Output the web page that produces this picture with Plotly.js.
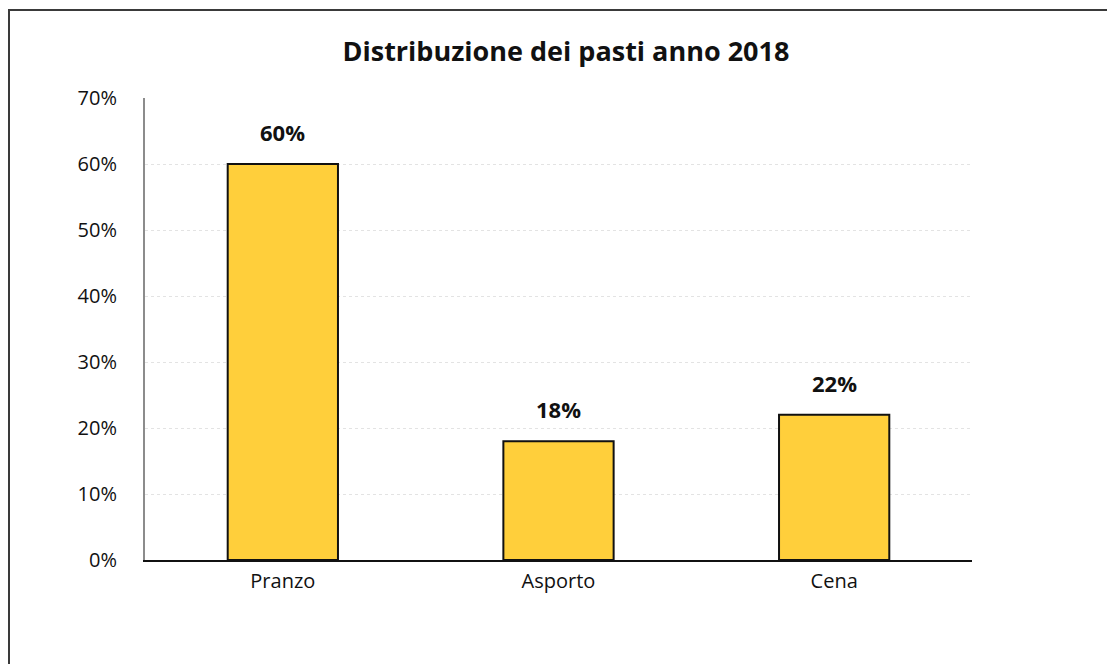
<!DOCTYPE html>
<html>
<head>
<meta charset="utf-8">
<script src="https://cdn.plot.ly/plotly-3.0.1.min.js"></script>
<style>
  html, body { margin: 0; padding: 0; background: #fff; overflow: hidden; }
  #frame { position: absolute; left: 8px; top: 9px; width: 1200px; height: 800px;
           border-left: 2px solid #3a3a3a; border-top: 2px solid #3a3a3a; pointer-events: none; z-index: 5; }
  #chart { position: absolute; left: 0; top: 0; width: 1107px; height: 664px; }
</style>
</head>
<body>
<div id="chart"></div>
<div id="frame"></div>
<script>
const categories = ["Pranzo", "Asporto", "Cena"];
const shares = [0.60, 0.18, 0.22];
const chartTitle = "Distribuzione dei pasti anno 2018";

const FONT = "'Open Sans', 'Noto Sans', sans-serif";

const trace = {
  type: "bar",
  x: categories,
  y: shares,
  marker: { color: "#FFCF3B", line: { color: "#111111", width: 2 } },
  hoverinfo: "skip"
};

const annotations = categories.map((c, i) => ({
  x: c, y: shares[i], xref: "x", yref: "y",
  text: "<b>" + Math.round(shares[i] * 100) + "%</b>",
  showarrow: false, yanchor: "bottom", yshift: 15,
  font: { family: FONT, size: 22, color: "#111" }
}));

const layout = {
  width: 1107, height: 664,
  margin: { l: 145, r: 135, t: 98, b: 104 },
  paper_bgcolor: "#fff", plot_bgcolor: "#fff",
  showlegend: false,
  bargap: 0.6,
  title: {
    text: "<b>" + chartTitle + "</b>",
    x: 0.509, xref: "paper", y: 0.922, yref: "container",
    xanchor: "center", yanchor: "middle",
    font: { family: FONT, size: 27, color: "#111" }
  },
  font: { family: FONT, color: "#111" },
  xaxis: {
    showline: true, linecolor: "#111", linewidth: 1.5,
    showgrid: false, ticks: "", ticklabelstandoff: 2,
    tickfont: { family: FONT, size: 20, color: "#111" },
    zeroline: false
  },
  yaxis: {
    range: [0, 0.7], dtick: 0.1, tick0: 0, tickformat: ".0%",
    showline: true, linecolor: "#8c8c8c", linewidth: 2,
    showgrid: true, gridcolor: "#e3e3e3", griddash: "dot", gridwidth: 1,
    zeroline: false, ticks: "", ticklabelstandoff: 22,
    tickfont: { family: FONT, size: 20, color: "#111" }
  },
  annotations: annotations
};

Plotly.newPlot("chart", [trace], layout, { displayModeBar: false, staticPlot: true });
</script>
</body>
</html>
